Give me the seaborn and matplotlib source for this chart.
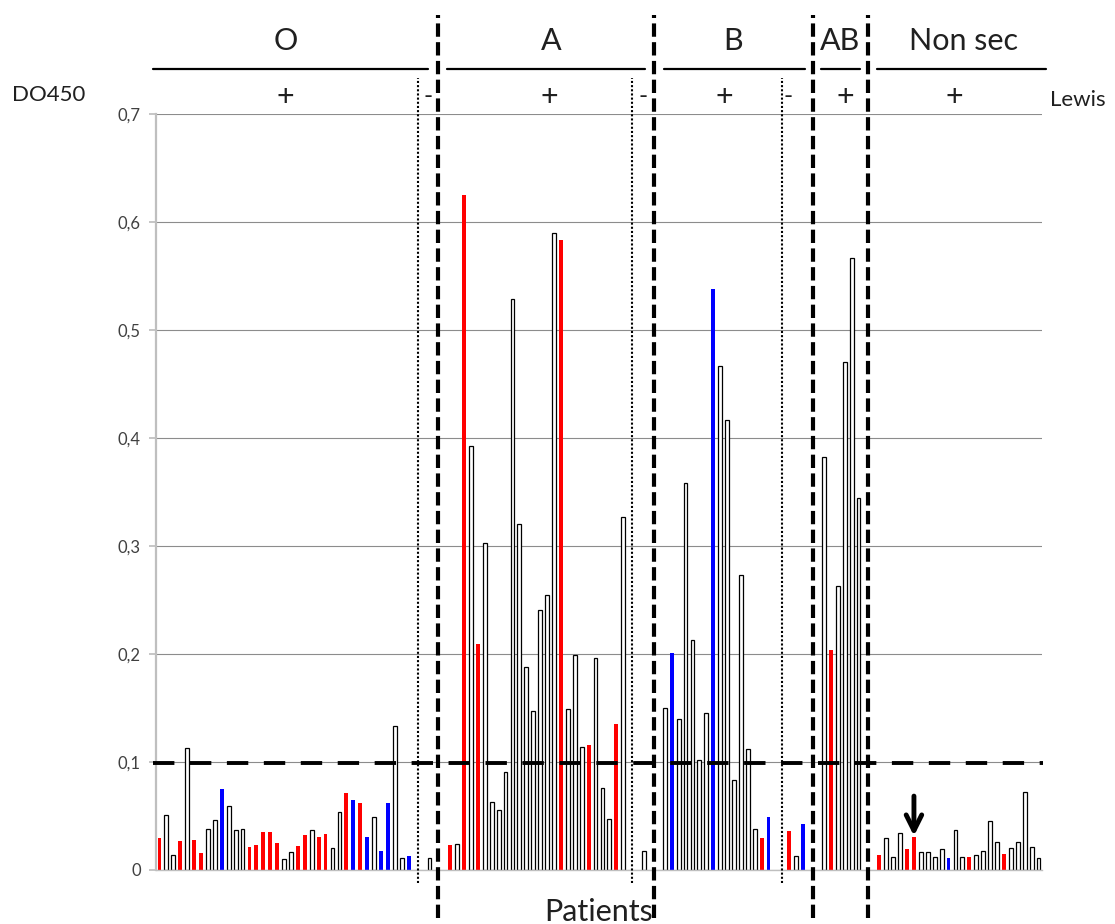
import numpy as np
import pandas as pd
import seaborn as sns
import matplotlib.pyplot as plt

# DO450 per patient; colour code per bar: w = white, r = red, b = blue
o_pos = [0.030, 0.051, 0.014, 0.027, 0.113, 0.028, 0.016, 0.038, 0.046, 0.075,
         0.059, 0.037, 0.038, 0.021, 0.023, 0.035, 0.035, 0.025, 0.010, 0.017,
         0.022, 0.032, 0.037, 0.031, 0.033, 0.020, 0.054, 0.071, 0.065, 0.062,
         0.031, 0.049, 0.018, 0.062, 0.133, 0.011, 0.013]
o_pos_col = "rwwrwrrwwbwwwrrrrrwwrrwrrwwrbrbwbbwwb"
o_neg = [0.011]
o_neg_col = "w"

a_pos = [0.023, 0.024, 0.625, 0.393, 0.209, 0.303, 0.063, 0.056, 0.091, 0.529,
         0.320, 0.188, 0.147, 0.241, 0.255, 0.590, 0.583, 0.149, 0.199, 0.114,
         0.116, 0.196, 0.076, 0.047, 0.135, 0.327]
a_pos_col = "rwrwrwwwwwwwwwwwrwwwrwwwrw"
a_neg = [0.018]
a_neg_col = "w"

b_pos = [0.150, 0.201, 0.140, 0.358, 0.213, 0.102, 0.145, 0.538, 0.467, 0.417,
         0.083, 0.273, 0.112, 0.038, 0.030, 0.049]
b_pos_col = "wbwwwwwbwwwwwwrb"
b_neg = [0.036, 0.013, 0.043]
b_neg_col = "rwb"

ab_pos = [0.382, 0.204, 0.263, 0.470, 0.567, 0.344]
ab_pos_col = "wrwwww"

nonsec = [0.014, 0.030, 0.012, 0.034, 0.019, 0.031, 0.017, 0.017, 0.012, 0.019,
          0.011, 0.037, 0.012, 0.012, 0.014, 0.018, 0.045, 0.026, 0.015, 0.020,
          0.026, 0.072, 0.021, 0.011]
nonsec_col = "rwwwrrwwwwbwwrwwwwrwwwww"

groups = ["O", "A", "B", "AB", "Non sec"]
cutoff = 0.1

# build one row per bar, leaving 2 empty slots between subgroups
blocks = [(o_pos, o_pos_col), (o_neg, o_neg_col), (a_pos, a_pos_col), (a_neg, a_neg_col),
          (b_pos, b_pos_col), (b_neg, b_neg_col), (ab_pos, ab_pos_col), (nonsec, nonsec_col)]
rows = []
slot = 0
for vals, cols in blocks:
    for v, c in zip(vals, cols):
        rows.append((slot, v, c))
        slot += 1
    slot += 2
n_slots = slot - 2
df = pd.DataFrame(rows, columns=["patient", "do450", "kind"])

sns.set_theme(style="white")
plt.rcParams['font.family'] = ['Lato', 'DejaVu Sans']

fig = plt.figure(figsize=(11.15, 9.24), dpi=100)
ax = fig.add_axes([156 / 1115, 1 - 870 / 924, (1042 - 156) / 1115, (870 - 114) / 924])

pal = {"w": "white", "r": "#ff0000", "b": "#0000ff"}
sns.barplot(data=df, x="patient", y="do450", hue="kind", order=list(range(n_slots)),
            palette=pal, dodge=False, width=0.55, saturation=1, legend=False, ax=ax)
for p in ax.patches:
    fc = p.get_facecolor()
    if fc[0] > 0.9 and fc[1] > 0.9 and fc[2] > 0.9:
        p.set_edgecolor("black")
        p.set_linewidth(0.9)
    else:
        p.set_edgecolor(fc)
        p.set_linewidth(0)

ax.set_xlim(-0.5, n_slots - 0.5)
ax.set_ylim(0, 0.7)
yt = np.round(np.arange(0, 0.71, 0.1), 1)
ax.set_yticks(yt)
ax.set_yticklabels(["0"] + [f"{t:.1f}".replace(".", ",") for t in yt[1:]],
                   fontsize=12, color="#404040")
ax.tick_params(axis="y", left=True, length=5, color="#bfbfbf", pad=6)
ax.set_xticks([])
ax.yaxis.grid(True, color="#8c8c8c", lw=0.8)
ax.set_axisbelow(True)
for s in ["top", "right"]:
    ax.spines[s].set_visible(False)
ax.spines["left"].set_color("#bfbfbf")
ax.spines["left"].set_linewidth(1.6)
ax.spines["bottom"].set_color("#bfbfbf")
ax.spines["bottom"].set_linewidth(1.0)
ax.set_xlabel("Patients", fontsize=22, labelpad=20, color="#202020")
ax.set_ylabel("")

# positivity cutoff
ax.plot([-1, n_slots - 0.3], [cutoff * 0.99] * 2, color="black", lw=2.8,
        ls=(0, (5.5, 4)), clip_on=False, zorder=5)

# group separators (dashed) and Lewis +/- separators (dotted)
for x in [40.2, 71.5, 94.4, 102.3]:
    ax.plot([x, x], [-0.044, 0.792], color="black", lw=3, ls=(0, (3.2, 1.3)),
            clip_on=False, zorder=5)
for x in [37.3, 68.3, 89.9]:
    ax.plot([x, x], [-0.012, 0.733], color="black", lw=1.5, ls=(0, (1, 1)),
            clip_on=False, zorder=5)

# header: blood group names with underline, Lewis status below
head_x = [18.2, 56.6, 82.9, 98.3, 116.2]
head_lines = [(-1.0, 38.8), (41.6, 70.2), (72.9, 93.3), (95.5, 101.2), (103.7, 128.1)]
for g, gx, (x0, x1) in zip(groups, head_x, head_lines):
    ax.text(gx, 0.768, g, fontsize=22, ha="center", va="center", color="#202020")
    ax.plot([x0, x1], [0.742, 0.742], color="black", lw=1.6, clip_on=False)
for px in [18.2, 56.3, 81.6, 99.1, 114.9]:
    ax.text(px, 0.716, "+", fontsize=22, ha="center", va="center", color="#202020")
for mx in [38.8, 69.9, 90.8]:
    ax.text(mx, 0.716, "-", fontsize=18, ha="center", va="center", color="#202020")
ax.text(128.6, 0.713, "Lewis", fontsize=16, ha="left", va="center", color="#202020")
fig.text(12 / 1115, 1 - 95 / 924, "DO450", fontsize=16, ha="left", va="center",
         color="#202020")

# arrow on the highlighted non-secretor patient
ax.annotate("", xy=(109, 0.029), xytext=(109, 0.071),
            arrowprops=dict(arrowstyle="->", color="black", lw=3.5, mutation_scale=28))

fig.savefig("out.png", dpi=100)
